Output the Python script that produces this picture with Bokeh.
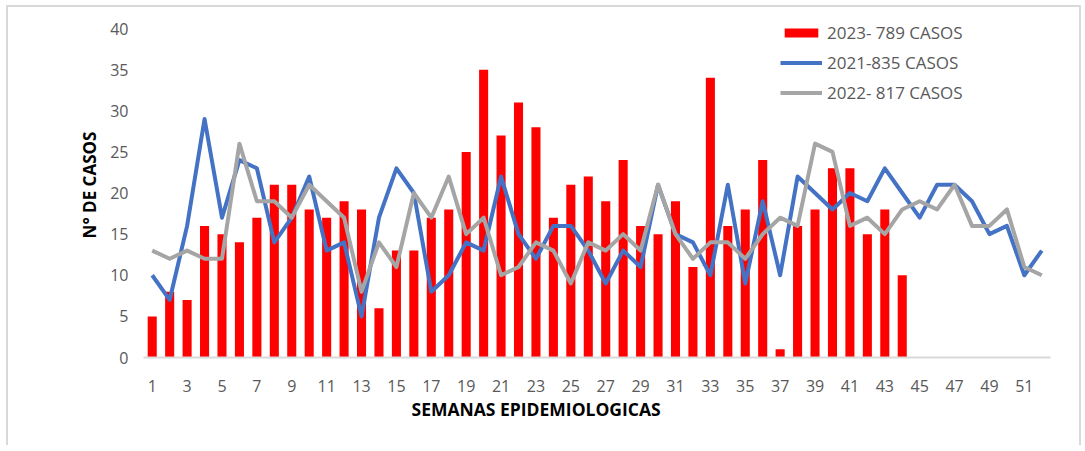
from bokeh.plotting import figure
from bokeh.models import ColumnDataSource, FixedTicker, Legend, LegendItem, Title, Range1d
from bokeh.embed import file_html
from bokeh.resources import INLINE

weeks = list(range(1, 53))
casos_2023 = [5, 8, 7, 16, 15, 14, 17, 21, 21, 18, 17, 19, 18, 6, 13, 13, 17, 18, 25, 35,
              27, 31, 28, 17, 21, 22, 19, 24, 16, 15, 19, 11, 34, 16, 18, 24, 1, 16, 18, 23,
              23, 15, 18, 10]
casos_2021 = [10, 7, 16, 29, 17, 24, 23, 14, 17, 22, 13, 14, 5, 17, 23, 20, 8, 10, 14, 13,
              22, 15, 12, 16, 16, 13, 9, 13, 11, 21, 15, 14, 10, 21, 9, 19, 10, 22, 20, 18,
              20, 19, 23, 20, 17, 21, 21, 19, 15, 16, 10, 13]
casos_2022 = [13, 12, 13, 12, 12, 26, 19, 19, 17, 21, 19, 17, 8, 14, 11, 20, 17, 22, 15, 17,
              10, 11, 14, 13, 9, 14, 13, 15, 13, 21, 15, 12, 14, 14, 12, 15, 17, 16, 26, 25,
              16, 17, 15, 18, 19, 18, 21, 16, 16, 18, 11, 10]
x_ticks = list(range(1, 52, 2))
y_ticks = [0, 5, 10, 15, 20, 25, 30, 35, 40]
labels = ["2023- 789 CASOS", "2021-835 CASOS", "2022- 817 CASOS"]

FONT = "Open Sans"
TXT = "#595959"

# frame spans page y 12..357; value 40 sits at y=28 (8.225 px per unit)
Y_TOP = 40 + 16 / 8.225

W, H = 1075, 440
p = figure(width=W, height=H, output_backend="svg", toolbar_location=None,
           x_range=Range1d(0.5, 52.5), y_range=Range1d(0, Y_TOP),
           min_border_left=135, min_border_right=33, min_border_top=5, min_border_bottom=90)
p.styles = {"margin-top": "5px", "margin-left": "6px",
            "border-top": "2px solid #D9D9D9", "border-left": "2px solid #D9D9D9",
            "border-right": "2px solid #D9D9D9"}
p.outline_line_color = None
p.grid.visible = False
p.background_fill_color = "white"
p.border_fill_color = "white"

src23 = ColumnDataSource(dict(x=weeks[:len(casos_2023)], y=casos_2023))
src21 = ColumnDataSource(dict(x=weeks, y=casos_2021))
src22 = ColumnDataSource(dict(x=weeks, y=casos_2022))

r23 = p.vbar(x="x", top="y", width=0.52, source=src23, fill_color="#FF0000", line_color=None)
r21 = p.line(x="x", y="y", source=src21, line_color="#4472C4", line_width=4, line_join="round")
r22 = p.line(x="x", y="y", source=src22, line_color="#A5A5A5", line_width=4, line_join="round")

xa = p.xaxis[0]
xa.ticker = FixedTicker(ticks=x_ticks)
xa.axis_line_color = "#D9D9D9"
xa.axis_line_width = 2
xa.major_tick_line_color = None
xa.minor_tick_line_color = None
xa.major_label_standoff = 16
xa.major_label_text_font = FONT
xa.major_label_text_font_size = "16px"
xa.major_label_text_color = TXT

ya = p.yaxis[0]
ya.ticker = FixedTicker(ticks=y_ticks)
ya.axis_line_color = None
ya.major_tick_line_color = None
ya.minor_tick_line_color = None
ya.major_label_standoff = 9
ya.major_label_text_font = FONT
ya.major_label_text_font_size = "16px"
ya.major_label_text_color = TXT
ya.axis_label = "N° DE CASOS"
ya.axis_label_text_font = FONT
ya.axis_label_text_font_style = "bold"
ya.axis_label_text_font_size = "17px"
ya.axis_label_text_color = "black"
ya.axis_label_standoff = 6

p.add_layout(Title(text="SEMANAS EPIDEMIOLOGICAS", align="left", offset=268, standoff=0,
                   text_font=FONT, text_font_style="bold", text_font_size="17.5px",
                   text_color="black"), "below")

legend = Legend(items=[LegendItem(label=labels[0], renderers=[r23]),
                       LegendItem(label=labels[1], renderers=[r21]),
                       LegendItem(label=labels[2], renderers=[r22])],
                location=(637, 253), orientation="vertical",
                glyph_width=42, glyph_height=11, label_height=20, spacing=7,
                label_standoff=5, padding=0, margin=0,
                label_text_font=FONT, label_text_font_size="17px", label_text_color=TXT,
                border_line_color=None, background_fill_alpha=0)
p.add_layout(legend)

open("out.html", "w").write(file_html(p, INLINE))
